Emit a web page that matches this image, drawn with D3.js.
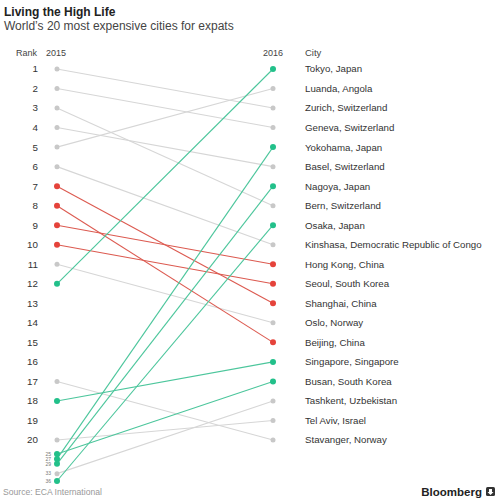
<!DOCTYPE html>
<html><head><meta charset="utf-8">
<script src="https://cdn.jsdelivr.net/npm/d3@7"></script>
<style>
body{margin:0;background:#fff;}
svg{display:block;font-family:"Liberation Sans",Arial,Helvetica,sans-serif;}
</style></head>
<body><svg id="c" width="500" height="504"></svg>
<script>
const cities = ["Tokyo, Japan","Luanda, Angola","Zurich, Switzerland","Geneva, Switzerland","Yokohama, Japan","Basel, Switzerland","Nagoya, Japan","Bern, Switzerland","Osaka, Japan","Kinshasa, Democratic Republic of Congo","Hong Kong, China","Seoul, South Korea","Shanghai, China","Oslo, Norway","Beijing, China","Singapore, Singapore","Busan, South Korea","Tashkent, Uzbekistan","Tel Aviv, Israel","Stavanger, Norway"];
const rank2016 = [1,2,3,4,5,6,7,8,9,10,11,12,13,14,15,16,17,18,19,20];
const rank2015 = [12,5,1,2,27,4,29,3,36,6,9,10,7,11,8,18,25,33,20,17];
const group = ["up","other","other","other","up","other","up","other","up","other","down","down","down","other","down","up","up","other","other","other"];
const rankTicks = [1,2,3,4,5,6,7,8,9,10,11,12,13,14,15,16,17,18,19,20];
const lowRanks = [25,27,29,33,36];

const svg = d3.select("#c");
const xL = 57, xR = 273;
const y = d3.scaleLinear().domain([1,20,25,36]).range([69,440,454,481]);
const dotCol = {up:"#22c08a", down:"#e5433b", other:"#c8c8c8"};
const lineCol = {up:"#4cc69c", down:"#dc5a50", other:"#d6d6d6"};

svg.append("text").attr("x",4).attr("y",16).attr("font-size",12).attr("font-weight","bold").attr("fill","#222").text("Living the High Life");
svg.append("text").attr("x",4).attr("y",30).attr("font-size",12).attr("fill","#444").text("World\u2019s 20 most expensive cities for expats");

svg.append("text").attr("x",37).attr("y",56).attr("font-size",9).attr("text-anchor","end").attr("fill","#444").text("Rank");
svg.append("text").attr("x",xL-11).attr("y",56).attr("font-size",9).attr("fill","#444").text("2015");
svg.append("text").attr("x",xR).attr("y",56).attr("font-size",9).attr("text-anchor","middle").attr("fill","#444").text("2016");
svg.append("text").attr("x",305).attr("y",56).attr("font-size",9.5).attr("fill","#444").text("City");

svg.append("g").selectAll("text").data(rankTicks).join("text")
  .attr("x",38).attr("y",d=>y(d)).attr("dy","0.35em").attr("text-anchor","end")
  .attr("font-size",9.8).attr("fill","#333").text(d=>d);
svg.append("g").selectAll("text").data(lowRanks).join("text")
  .attr("x",51).attr("y",d=>y(d)).attr("dy","0.35em").attr("text-anchor","end")
  .attr("font-size",5).attr("fill","#777").text(d=>d);

const data = cities.map((c,i)=>({city:c,r15:rank2015[i],r16:rank2016[i],g:group[i]}));
const order = {other:0,down:1,up:2};
const sorted = data.slice().sort((a,b)=>order[a.g]-order[b.g]);

svg.append("g").selectAll("line").data(sorted).join("line")
  .attr("x1",xL).attr("x2",xR).attr("y1",d=>y(d.r15)).attr("y2",d=>y(d.r16))
  .attr("stroke",d=>lineCol[d.g]).attr("stroke-width",1.1);
svg.append("g").selectAll("circle").data(sorted).join("circle")
  .attr("cx",xL).attr("cy",d=>y(d.r15)).attr("r",d=>d.g==="other"?2.5:3).attr("fill",d=>dotCol[d.g]);
svg.append("g").selectAll("circle").data(sorted).join("circle")
  .attr("cx",xR).attr("cy",d=>y(d.r16)).attr("r",d=>d.g==="other"?2.5:3).attr("fill",d=>dotCol[d.g]);

svg.append("g").selectAll("text").data(data).join("text")
  .attr("x",305).attr("y",d=>y(d.r16)).attr("dy","0.35em")
  .attr("font-size",9.7).attr("fill","#333").text(d=>d.city);

svg.append("text").attr("x",3).attr("y",495).attr("font-size",8.6).attr("fill","#999").text("Source: ECA International");
svg.append("text").attr("x",482).attr("y",496).attr("font-size",11.5).attr("font-weight","bold").attr("text-anchor","end").attr("fill","#222").text("Bloomberg");
svg.append("rect").attr("x",486).attr("y",487).attr("width",9).attr("height",9).attr("rx",1.5).attr("fill","#333");
svg.append("path").attr("d","M489 489 h3 v3 h1.5 l-3 3 l-3 -3 h1.5 z").attr("fill","#fff");
</script></body></html>
